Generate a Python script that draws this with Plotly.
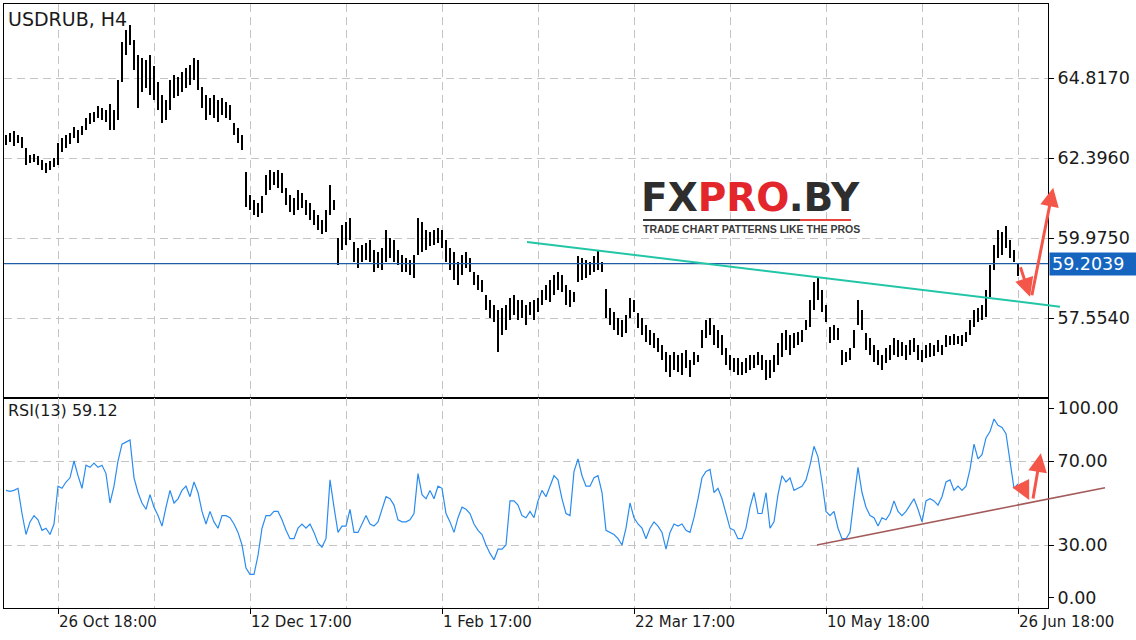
import plotly.graph_objects as go

# ---------------- data ----------------
symbol_title = "USDRUB, H4"
rsi_title = "RSI(13) 59.12"
time_labels = ["26 Oct 18:00", "12 Dec 17:00", "1 Feb 17:00", "22 Mar 17:00", "10 May 18:00", "26 Jun 18:00"]
label_bars = [13, 61, 109, 157, 205, 253]
minor_grid_bars = [37, 85, 133, 181, 229]
price_ticks = [57.5540, 59.9750, 62.3960, 64.8170]
price_tick_text = ["57.5540", "59.9750", "62.3960", "64.8170"]
rsi_label_vals = [30, 70]
last_price = 59.2039

highs = [
    63.10, 63.16, 63.22, 63.10, 63.04, 62.71, 62.50, 62.53, 62.47, 62.35,
    62.25, 62.31, 62.41, 62.86, 63.01, 63.10, 63.16, 63.34, 63.25, 63.37,
    63.62, 63.77, 63.80, 63.98, 63.92, 63.86, 64.04, 63.86, 64.77, 65.92,
    66.28, 66.43, 65.98, 65.52, 65.43, 65.37, 65.52, 65.19, 64.70, 64.31,
    64.16, 64.77, 64.92, 64.86, 65.01, 65.13, 65.22, 65.43, 65.37, 64.55,
    64.31, 64.22, 64.31, 64.16, 64.22, 64.10, 64.01, 63.46, 63.31, 63.10,
    61.98, 61.29, 61.14, 61.04, 61.26, 61.89, 62.04, 61.98, 62.04, 61.95,
    61.50, 61.29, 61.20, 61.44, 61.34, 61.14, 61.04, 60.83, 60.68, 60.53,
    60.83, 61.59, 61.14, 59.99, 60.38, 60.47, 60.59, 59.86, 59.68, 59.77,
    59.83, 59.92, 59.62, 59.56, 59.68, 60.23, 59.99, 59.92, 59.62, 59.47,
    59.38, 59.32, 59.47, 60.59, 60.47, 60.23, 60.17, 60.23, 60.29, 60.23,
    59.92, 59.68, 59.56, 59.26, 59.47, 59.56, 59.38, 58.96, 58.87, 58.71,
    58.26, 58.11, 57.96, 57.81, 57.87, 57.96, 58.17, 58.26, 58.11, 58.11,
    57.96, 58.05, 58.11, 58.17, 58.41, 58.56, 58.71, 58.87, 58.96, 58.87,
    58.56, 58.41, 58.35, 59.44, 59.38, 59.32, 59.26, 59.44, 59.59, 59.26,
    58.44, 57.87, 57.75, 57.56, 57.50, 57.66, 58.17, 58.11, 57.72, 57.56,
    57.35, 57.20, 57.11, 56.96, 56.75, 56.54, 56.44, 56.54, 56.44, 56.51,
    56.60, 56.29, 56.54, 56.44, 57.20, 57.50, 57.56, 57.35, 57.20, 57.05,
    56.66, 56.44, 56.35, 56.35, 56.23, 56.35, 56.44, 56.44, 56.54, 56.44,
    56.29, 56.29, 56.44, 56.81, 57.11, 57.20, 57.05, 57.11, 57.14, 57.20,
    57.50, 58.11, 58.65, 58.77, 58.41, 57.96, 57.29, 57.35, 57.26, 56.60,
    56.54, 56.66, 57.20, 58.11, 57.81, 57.11, 56.96, 56.75, 56.60, 56.44,
    56.66, 56.75, 56.96, 56.90, 56.84, 56.75, 56.90, 56.96, 56.75, 56.60,
    56.75, 56.81, 56.75, 56.90, 56.75, 57.05, 57.02, 57.08, 57.02, 57.05,
    57.14, 57.50, 57.81, 57.87, 57.96, 58.41, 59.17, 59.77, 60.23, 60.17,
    60.35, 59.92, 59.62, 59.23,
]

lows = [
    62.80, 62.89, 62.77, 62.86, 62.71, 62.19, 62.25, 62.28, 62.19, 62.04,
    61.95, 62.04, 62.13, 62.19, 62.59, 62.71, 62.83, 63.01, 62.86, 63.10,
    63.25, 63.43, 63.49, 63.62, 63.55, 63.49, 63.25, 63.25, 63.55, 64.70,
    65.52, 65.82, 65.07, 63.92, 64.40, 64.52, 64.31, 64.16, 63.86, 63.46,
    63.55, 63.86, 64.22, 64.28, 64.40, 64.52, 64.61, 64.77, 64.46, 63.92,
    63.55, 63.71, 63.62, 63.49, 63.71, 63.62, 63.55, 63.10, 62.86, 62.65,
    60.92, 60.83, 60.68, 60.62, 60.74, 61.29, 61.44, 61.59, 61.50, 61.34,
    60.98, 60.77, 60.68, 60.83, 60.89, 60.68, 60.53, 60.38, 60.23, 60.11,
    60.17, 60.68, 60.83, 59.17, 59.62, 59.77, 59.92, 59.26, 59.08, 59.26,
    59.32, 59.26, 58.96, 59.08, 59.02, 59.26, 59.38, 59.26, 59.17, 58.96,
    58.96, 58.87, 58.77, 59.47, 59.56, 59.62, 59.74, 59.77, 59.83, 59.68,
    59.26, 59.02, 58.71, 58.56, 58.87, 59.08, 58.96, 58.56, 58.41, 58.35,
    57.81, 57.56, 57.44, 56.54, 57.05, 57.20, 57.50, 57.66, 57.50, 57.56,
    57.35, 57.66, 57.50, 57.75, 57.96, 58.11, 58.05, 58.26, 58.41, 58.35,
    57.96, 57.90, 58.05, 58.65, 58.71, 58.77, 58.87, 58.96, 59.02, 58.96,
    57.56, 57.35, 57.20, 57.05, 56.99, 57.11, 57.56, 57.75, 57.26, 57.05,
    56.84, 56.75, 56.66, 56.54, 56.29, 55.93, 55.78, 55.99, 55.93, 55.84,
    56.05, 55.78, 56.14, 56.23, 56.66, 56.96, 57.05, 56.75, 56.66, 56.44,
    56.14, 55.99, 55.93, 55.84, 55.84, 55.90, 55.99, 56.05, 56.14, 55.99,
    55.69, 55.75, 55.93, 56.14, 56.38, 56.60, 56.44, 56.66, 56.75, 56.84,
    57.20, 57.29, 57.81, 58.11, 57.75, 57.44, 56.81, 56.90, 56.90, 56.14,
    56.23, 56.29, 56.66, 57.35, 57.20, 56.60, 56.44, 56.23, 56.14, 55.99,
    56.20, 56.29, 56.44, 56.38, 56.41, 56.29, 56.44, 56.54, 56.29, 56.23,
    56.35, 56.38, 56.41, 56.54, 56.44, 56.69, 56.75, 56.75, 56.78, 56.72,
    56.84, 57.05, 57.29, 57.44, 57.50, 57.59, 58.20, 59.02, 59.38, 59.47,
    59.68, 59.38, 59.26, 58.84,
]

rsi = [
    56, 55.5, 56, 57, 45, 35, 41, 44, 42, 37,
    38, 35, 40, 58, 57, 60, 62, 70, 63, 57,
    68, 67, 69, 67, 68, 64, 50, 58, 70, 78,
    79, 80, 62, 55, 50, 47, 54, 48, 44, 39,
    48, 56, 50, 52, 56, 58, 53, 60, 55, 46,
    40, 46, 41, 38, 44, 44, 43, 40, 36, 30,
    19, 16, 16, 25, 38, 44, 44, 46, 46, 42,
    37, 33, 33, 38, 40, 38, 40, 36, 31, 29,
    33, 61, 48, 36, 39, 39, 47, 36, 36, 40,
    44, 40, 39, 41, 47, 53, 52, 49, 42, 41,
    41, 42, 45, 64, 54, 52, 56, 52, 58, 57,
    45, 41, 36, 43, 48, 47, 45, 40, 37, 35,
    30, 26, 23, 28, 28, 30, 51, 51, 49, 44,
    43, 46, 43, 51, 56, 53, 58, 63, 61, 52,
    45, 44, 65, 71, 63, 58, 58, 62, 63, 55,
    37, 36, 35, 33, 30, 38, 50, 43, 40, 38,
    33, 38, 41, 39, 36, 28, 36, 40, 39, 40,
    37, 36, 43, 52, 62, 65, 66, 55, 57, 52,
    45, 38, 37, 33, 33, 38, 48, 55, 45, 45,
    55, 38, 41, 54, 63, 60, 62, 56, 57, 58,
    61, 68, 77, 72, 60, 46, 44, 46, 38, 33,
    33, 36, 52, 67, 55, 48, 44, 43, 39, 43,
    42, 45, 51, 46, 44, 46, 49, 52, 47, 41,
    51, 52, 51, 49, 53, 60, 61, 56, 58, 56,
    58, 66, 78, 71, 73, 81, 84, 90, 87, 86,
    83, 70, 57, 59.12,
]

# trend lines (bar index, value)
price_trend = [(130.25, 59.86), (263.5, 57.90)]
rsi_trend = [(202.75, 30.0), (274.75, 57.3)]
# forecast arrows: (tail bar, tail value, tip bar, tip value)
price_arrows = [(253.5, 59.14, 256.0, 58.20), (256.4, 58.20, 261.8, 61.50)]
rsi_arrows = [(253.5, 60.1, 255.8, 51.4), (256.7, 51.4, 258.7, 73.7)]

# ---------------- layout constants ----------------
W, H = 1136, 640
ML, MR, MT, MB = 4, 88, 4, 32
PW, PH = W - ML - MR, H - MT - MB
X_RANGE = [-0.5, 260.5]
P_RANGE = [55.133, 67.065]
SPLIT = 210 / PH  # RSI panel share
FONT = "DejaVu Sans"
GRID = "#c4c4c4"
DASH = "8px,5px"
TXT = "#1a1a1a"

idx = list(range(len(highs)))


def xpaper(i):
    return (i - X_RANGE[0]) / (X_RANGE[1] - X_RANGE[0])


def ypaper_price(p):
    return SPLIT + (p - P_RANGE[0]) / (P_RANGE[1] - P_RANGE[0]) * (1 - SPLIT)


def ypaper_rsi(r):
    return r / 100 * SPLIT


def px_paper(px, py):
    return (px - ML) / PW, (H - MB - py) / PH


fig = go.Figure()

fig.add_trace(go.Bar(
    x=idx, base=lows, y=[h - l for h, l in zip(highs, lows)],
    width=0.26, marker=dict(color="#000000", line=dict(width=0)),
    xaxis="x", yaxis="y", showlegend=False, hoverinfo="skip",
))

fig.add_trace(go.Scatter(
    x=idx, y=rsi, mode="lines", line=dict(color="#2a8cf0", width=1.2),
    xaxis="x2", yaxis="y2", showlegend=False, hoverinfo="skip",
))

axis_common = dict(showline=True, linecolor="#000", linewidth=1, mirror=True,
                   zeroline=False, fixedrange=True)

fig.update_layout(
    width=W, height=H,
    margin=dict(l=ML, r=MR, t=MT, b=MB),
    paper_bgcolor="white", plot_bgcolor="white",
    font=dict(family=FONT, color=TXT),
    bargap=0,
    xaxis=dict(domain=[0, 1], range=X_RANGE, anchor="y", showticklabels=False,
               tickmode="array", tickvals=label_bars + minor_grid_bars, ticks="",
               showgrid=True, gridcolor=GRID, griddash=DASH, gridwidth=1, **axis_common),
    yaxis=dict(domain=[SPLIT, 1], range=P_RANGE, anchor="x", side="right",
               tickmode="array", tickvals=price_ticks, ticktext=price_tick_text,
               ticks="outside", ticklen=5, tickcolor="#000",
               tickfont=dict(size=17.5, family=FONT, color=TXT),
               showgrid=True, gridcolor=GRID, griddash=DASH, gridwidth=1, **axis_common),
    xaxis2=dict(domain=[0, 1], range=X_RANGE, anchor="y2",
                tickmode="array", tickvals=label_bars, ticktext=time_labels,
                ticks="outside", ticklen=5, tickcolor="#000",
                ticklabelposition="outside right",
                tickfont=dict(size=15, family=FONT, color=TXT),
                showgrid=True, gridcolor=GRID, griddash=DASH, gridwidth=1,
                minor=dict(tickmode="array", tickvals=minor_grid_bars, showgrid=True,
                           gridcolor=GRID, griddash=DASH, gridwidth=1, ticks=""),
                **axis_common),
    yaxis2=dict(domain=[0, SPLIT], range=[0, 100], anchor="x2", side="right",
                tickmode="array", tickvals=[4.8, 30, 70, 95.2],
                ticktext=["0.00", "30.00", "70.00", "100.00"],
                ticks="outside", ticklen=5, tickcolor="#000",
                tickfont=dict(size=17.5, family=FONT, color=TXT),
                showgrid=False,
                minor=dict(tickmode="array", tickvals=rsi_label_vals, showgrid=True,
                           gridcolor=GRID, griddash=DASH, gridwidth=1, ticks=""),
                **axis_common),
)

shapes = []
# last price line
shapes.append(dict(type="line", xref="x", yref="y", x0=X_RANGE[0], x1=X_RANGE[1],
                   y0=last_price, y1=last_price, line=dict(color="#1d5ca8", width=1.3)))
# trend lines
(a_i, a_p), (b_i, b_p) = price_trend
shapes.append(dict(type="line", xref="paper", yref="paper",
                   x0=xpaper(a_i), y0=ypaper_price(a_p), x1=xpaper(b_i), y1=ypaper_price(b_p),
                   line=dict(color="#22c6a6", width=2)))
(a_i, a_r), (b_i, b_r) = rsi_trend
shapes.append(dict(type="line", xref="paper", yref="paper",
                   x0=xpaper(a_i), y0=ypaper_rsi(a_r), x1=xpaper(b_i), y1=ypaper_rsi(b_r),
                   line=dict(color="#a45a5a", width=1.6)))

# logo underline
ux0, uy = px_paper(643, 220)
ux1, _ = px_paper(800, 220)
ux2, _ = px_paper(851, 220)
shapes.append(dict(type="line", xref="paper", yref="paper", x0=ux0, x1=ux1, y0=uy, y1=uy,
                   line=dict(color="#3a3a3a", width=2)))
shapes.append(dict(type="line", xref="paper", yref="paper", x0=ux1, x1=ux2, y0=uy, y1=uy,
                   line=dict(color="#e8443a", width=2)))
fig.update_layout(shapes=shapes)

ann = []
ann.append(dict(text=symbol_title, xref="paper", yref="paper", x=0, y=1, xanchor="left",
                yanchor="top", xshift=2, yshift=-2, showarrow=False,
                font=dict(size=19, family=FONT, color=TXT)))
ann.append(dict(text=rsi_title, xref="paper", yref="paper", x=0, y=SPLIT, xanchor="left",
                yanchor="top", xshift=2, yshift=-1, showarrow=False,
                font=dict(size=16, family=FONT, color=TXT)))
# last price box
ann.append(dict(text=f"{last_price:.4f}", xref="paper", yref="y", x=1, y=last_price,
                xanchor="left", yanchor="middle", xshift=1, showarrow=False,
                bgcolor="#1565c0", borderpad=2, width=82, height=18, align="left",
                font=dict(size=17.5, family=FONT, color="white")))
# logo
lx, ly = px_paper(639, 198)
ann.append(dict(text="<b>FX<span style='color:#e3262c'>PRO</span>.BY</b>", xref="paper",
                yref="paper", x=lx, y=ly, xanchor="left", yanchor="middle", showarrow=False,
                font=dict(size=39, family="DejaVu Sans", color="#2e2e2e")))
sx, sy = px_paper(641, 229)
ann.append(dict(text="<b>TRADE CHART PATTERNS LIKE THE PROS</b>", xref="paper", yref="paper",
                x=sx, y=sy, xanchor="left", yanchor="middle", showarrow=False,
                font=dict(size=10.5, family="Liberation Sans", color="#3a3a3a")))

PX_PER_BAR = PW / (X_RANGE[1] - X_RANGE[0])
PX_PER_PRICE = PH * (1 - SPLIT) / (P_RANGE[1] - P_RANGE[0])
PX_PER_RSI = PH * SPLIT / 100
for (ti, tv, hi, hv) in price_arrows:
    ann.append(dict(xref="paper", yref="paper", x=xpaper(hi), y=ypaper_price(hv),
                    ax=(ti - hi) * PX_PER_BAR, ay=-(tv - hv) * PX_PER_PRICE, axref="pixel",
                    ayref="pixel", showarrow=True, arrowhead=2, arrowsize=1.25, arrowwidth=3,
                    arrowcolor="#f5564a", text=""))
for (ti, tv, hi, hv) in rsi_arrows:
    ann.append(dict(xref="paper", yref="paper", x=xpaper(hi), y=ypaper_rsi(hv),
                    ax=(ti - hi) * PX_PER_BAR, ay=-(tv - hv) * PX_PER_RSI, axref="pixel",
                    ayref="pixel", showarrow=True, arrowhead=2, arrowsize=1.25, arrowwidth=3,
                    arrowcolor="#f5564a", text=""))
fig.update_layout(annotations=ann)

fig.write_html("out.html")
